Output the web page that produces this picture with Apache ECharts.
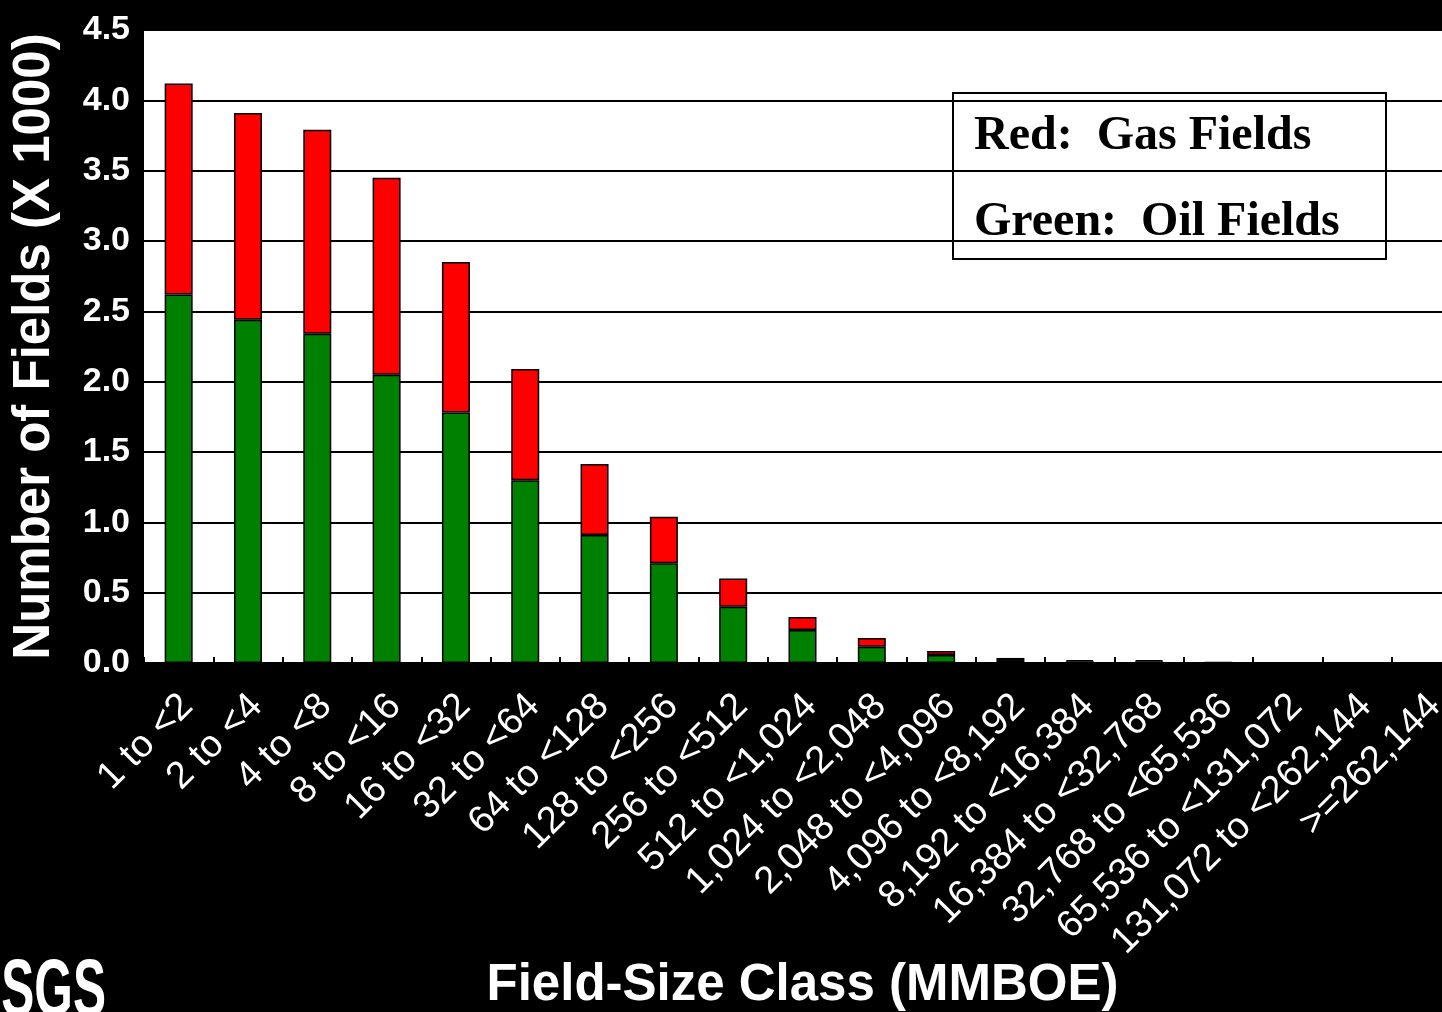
<!DOCTYPE html>
<html>
<head>
<meta charset="utf-8">
<script src="https://cdn.jsdelivr.net/npm/echarts@6/dist/echarts.min.js"></script>
<style>
  html, body { margin: 0; padding: 0; background: #000; }
  #chart { width: 1442px; height: 1012px; }
</style>
</head>
<body>
<div id="chart"></div>
<script>
// Field-size classes (MMBOE)
const categories = ['1 to <2', '2 to <4', '4 to <8', '8 to <16', '16 to <32', '32 to <64',
  '64 to <128', '128 to <256', '256 to <512', '512 to <1,024', '1,024 to <2,048',
  '2,048 to <4,096', '4,096 to <8,192', '8,192 to <16,384', '16,384 to <32,768',
  '32,768 to <65,536', '65,536 to <131,072', '131,072 to <262,144', '>=262,144'];
// Number of fields (x 1000)
const oilFields = [2.62, 2.44, 2.34, 2.05, 1.78, 1.30, 0.91, 0.71, 0.40, 0.235, 0.115, 0.057, 0.021, 0.012, 0.012, 0.003, 0.002, 0.001, 0];
const gasFields = [1.50, 1.47, 1.45, 1.40, 1.07, 0.79, 0.505, 0.33, 0.20, 0.092, 0.063, 0.028, 0.015, 0.009, 0.008, 0.002, 0.001, 0.0005, 0];
const yTicks = { min: 0, max: 4.5, interval: 0.5 };

const chart = echarts.init(document.getElementById('chart'), null, { renderer: 'canvas' });
const barStyle = (color) => ({ color: color, borderColor: '#000', borderWidth: 1.5 });

chart.setOption({
  backgroundColor: '#000',
  animation: false,
  grid: {
    left: 144, top: 30, bottom: 349, right: -19,
    outerBoundsMode: 'none', containLabel: false,
    show: true, backgroundColor: '#fff', borderWidth: 0
  },
  xAxis: {
    type: 'category',
    data: categories,
    axisLine: { show: true, lineStyle: { color: '#000', width: 2 } },
    axisTick: { show: true, inside: true, length: 6, lineStyle: { color: '#000', width: 2 } },
    axisLabel: {
      interval: 0, rotate: 45, color: '#fff', fontFamily: 'Liberation Sans, Arial, sans-serif',
      fontSize: 38, verticalAlign: 'top', lineHeight: 24, margin: 29, hideOverlap: false
    },
    name: 'Field-Size Class (MMBOE)',
    nameLocation: 'middle',
    nameGap: 297,
    nameMoveOverlap: false,
    nameTextStyle: { color: '#fff', fontSize: 51, fontWeight: 'bold', fontFamily: 'Liberation Sans, Arial, sans-serif' }
  },
  yAxis: {
    type: 'value',
    min: yTicks.min, max: yTicks.max, interval: yTicks.interval,
    axisLine: { show: false },
    axisTick: { show: false },
    splitLine: { show: true, lineStyle: { color: '#000', width: 2 } },
    axisLabel: {
      color: '#fff', fontSize: 34, fontWeight: 'bold', margin: 14,
      fontFamily: 'Liberation Sans, Arial, sans-serif',
      formatter: (v) => v.toFixed(1)
    },
    name: 'Number of Fields (X 1000)',
    nameLocation: 'middle',
    nameRotate: 90,
    nameGap: 84,
    nameMoveOverlap: false,
    nameTextStyle: { color: '#fff', fontSize: 51, fontWeight: 'bold', fontFamily: 'Liberation Sans, Arial, sans-serif' }
  },
  series: [
    { name: 'Oil Fields', type: 'bar', stack: 'total', data: oilFields, barWidth: 28, itemStyle: barStyle('#008000') },
    { name: 'Gas Fields', type: 'bar', stack: 'total', data: gasFields, barWidth: 28, itemStyle: barStyle('#ff0000') }
  ],
  graphic: [
    {
      type: 'group', left: 952, top: 92,
      children: [
        { type: 'rect', shape: { x: 0, y: 0, width: 433, height: 166 }, style: { fill: '#fff', stroke: '#000', lineWidth: 2 } },
        { type: 'text', x: 21, y: 44, style: { text: 'Red:  Gas Fields', fill: '#000', font: 'bold 48px "Liberation Serif", "Times New Roman", serif', verticalAlign: 'middle' } },
        { type: 'text', x: 21, y: 130, style: { text: 'Green:  Oil Fields', fill: '#000', font: 'bold 48px "Liberation Serif", "Times New Roman", serif', verticalAlign: 'middle' } }
      ]
    },
    {
      type: 'text', x: 106, y: 953, scaleX: 0.62,
      style: { text: 'USGS', fill: '#fff', align: 'right', verticalAlign: 'top', font: 'bold 80px "Liberation Sans", Arial, sans-serif' }
    }
  ]
});
</script>
</body>
</html>
